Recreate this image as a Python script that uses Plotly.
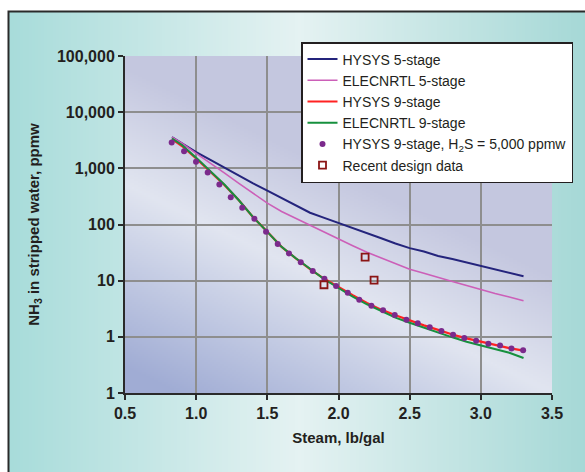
import zlib, struct, base64
import plotly.graph_objects as go

# ---------------- data ----------------
steam_5 = [0.83, 0.9, 1.0, 1.1, 1.2, 1.3, 1.4, 1.5, 1.6, 1.7, 1.8, 1.9, 2.0, 2.1, 2.2, 2.3, 2.4, 2.5, 2.6, 2.7, 2.8, 2.9, 3.0, 3.1, 3.2, 3.3]
hysys_5 = [3590, 2790, 1950, 1410, 1020, 740, 540, 400, 295, 220, 162, 131, 107, 87, 70, 57, 46, 38, 33, 27.5, 24.3, 21, 18.2, 15.8, 13.8, 12.0]
elec_5 = [3600, 2800, 1850, 1250, 820, 540, 360, 240, 170, 128, 97, 72, 55, 42, 32, 25.5, 20, 16, 13.5, 11.3, 9.7, 8.2, 6.9, 5.9, 5.1, 4.4]

steam_9 = [0.83, 0.9, 1.0, 1.1, 1.2, 1.3, 1.4, 1.5, 1.6, 1.7, 1.8, 1.9, 2.0, 2.1, 2.2, 2.3, 2.4, 2.5, 2.6, 2.7, 2.8, 2.9, 3.0, 3.1, 3.2, 3.3]
hysys_9 = [3300, 2500, 1500, 880, 500, 270, 135, 74, 40, 25, 16, 10.8, 7.6, 5.5, 4.0, 3.05, 2.42, 1.95, 1.6, 1.33, 1.1, 0.94, 0.82, 0.72, 0.63, 0.57]
elec_9 = [3400, 2600, 1550, 900, 510, 270, 135, 74, 40, 25, 16, 10.6, 7.4, 5.2, 3.8, 2.85, 2.2, 1.78, 1.45, 1.18, 0.98, 0.82, 0.70, 0.60, 0.52, 0.42]

steam_h2s = [0.828, 0.915, 0.999, 1.081, 1.163, 1.243, 1.324, 1.409, 1.491, 1.573, 1.652, 1.735, 1.819, 1.901, 1.983,
             2.065, 2.146, 2.231, 2.313, 2.395, 2.477, 2.557, 2.641, 2.723, 2.805, 2.884, 2.967, 3.053, 3.135, 3.215, 3.297]
hysys_9_h2s = [2890, 2020, 1306, 845, 516, 307, 198, 126, 74, 45, 30.6, 21.2, 14.8, 10.8, 8.0,
               6.1, 4.57, 3.57, 2.96, 2.44, 2.01, 1.74, 1.48, 1.27, 1.09, 0.95, 0.85, 0.75, 0.70, 0.62, 0.575]

steam_design = [1.898, 2.187, 2.25]
design_data = [8.45, 26.3, 10.2]

y_tickvals = [0.1, 1, 10, 100, 1000, 10000, 100000]
y_ticktext = ["1", "1", "10", "100", "1,000", "10,000", "100,000"]
x_tickvals = [0.5, 1.0, 1.5, 2.0, 2.5, 3.0, 3.5]

# ---------------- gradient images ----------------
def png_uri(w, h, fn):
    rows = []
    for j in range(h):
        v = j / (h - 1)
        row = bytearray(b"\x00")
        for i in range(w):
            row.extend(fn(i / (w - 1), v))
        rows.append(bytes(row))
    raw = b"".join(rows)

    def chunk(tag, data):
        c = struct.pack(">I", len(data)) + tag + data
        return c + struct.pack(">I", zlib.crc32(tag + data) & 0xFFFFFFFF)

    png = b"\x89PNG\r\n\x1a\n" + chunk(b"IHDR", struct.pack(">IIBBBBB", w, h, 8, 2, 0, 0, 0))
    png += chunk(b"IDAT", zlib.compress(raw, 9)) + chunk(b"IEND", b"")
    return "data:image/png;base64," + base64.b64encode(png).decode()


def lerp(a, b, t):
    t = max(0.0, min(1.0, t))
    return [int(round(a[k] + (b[k] - a[k]) * t)) for k in range(3)]


def outer_fn(u, v):
    left, mid, right = (168, 220, 218), (229, 242, 242), (165, 216, 214)
    m = 0.5
    if u < m:
        return lerp(left, mid, u / m)
    return lerp(mid, right, (u - m) / (1 - m))


def inner_fn(u, v):
    bright = (225, 229, 240)
    dark = (160, 172, 212)
    upper = (196, 199, 223)
    d = v - (0.38 + 0.62 * u)
    if d >= 0:
        return lerp(bright, dark, d / 0.55)
    return lerp(bright, upper, -d / 0.35)


W, H = 585, 472
L, R, T, B = 125, 552, 56, 393
pw, ph = R - L, B - T


def px_x(p):
    return (p - L) / pw


def px_y(p):
    return (B - p) / ph


outer_src = png_uri(192, 16, outer_fn)
inner_src = png_uri(214, 169, inner_fn)

font_family = "Liberation Sans, Arial, sans-serif"
txt = "#231f20"

fig = go.Figure()
fig.add_trace(go.Scatter(x=steam_5, y=hysys_5, mode="lines", name="HYSYS 5-stage",
                         line=dict(color="#24247c", width=2)))
fig.add_trace(go.Scatter(x=steam_5, y=elec_5, mode="lines", name="ELECNRTL 5-stage",
                         line=dict(color="#cc5fb8", width=1.6)))
fig.add_trace(go.Scatter(x=steam_9, y=hysys_9, mode="lines", name="HYSYS 9-stage",
                         line=dict(color="#ff2222", width=2.2)))
fig.add_trace(go.Scatter(x=steam_9, y=elec_9, mode="lines", name="ELECNRTL 9-stage",
                         line=dict(color="#16903e", width=2)))
fig.add_trace(go.Scatter(x=steam_h2s, y=hysys_9_h2s, mode="markers",
                         name="HYSYS 9-stage, H<sub>2</sub>S = 5,000 ppmw",
                         marker=dict(color="#7b2a8c", size=6, symbol="circle")))
fig.add_trace(go.Scatter(x=steam_design, y=design_data, mode="markers", name="Recent design data",
                         marker=dict(color="#8b1515", size=7, symbol="square-open", line=dict(width=1.8))))

fig.update_layout(
    width=W, height=H,
    margin=dict(l=L, r=W - R, t=T, b=H - B, pad=0),
    paper_bgcolor="white",
    plot_bgcolor="rgba(0,0,0,0)",
    font=dict(family=font_family, color=txt, size=14),
    showlegend=True,
    legend=dict(x=px_x(301), y=px_y(42), xanchor="left", yanchor="top",
                bgcolor="white", bordercolor=txt, borderwidth=1.5,
                font=dict(size=14, family=font_family, color=txt),
                itemwidth=30, tracegroupgap=0),
    images=[
        dict(source=outer_src, xref="paper", yref="paper",
             x=px_x(9), y=px_y(12), sizex=(W + 5 - 9) / pw, sizey=(H + 5 - 12) / ph,
             sizing="stretch", layer="below", xanchor="left", yanchor="top"),
        dict(source=inner_src, xref="paper", yref="paper",
             x=0, y=1, sizex=1, sizey=1,
             sizing="stretch", layer="below", xanchor="left", yanchor="top"),
    ],
    shapes=[
        dict(type="rect", xref="paper", yref="paper",
             x0=px_x(8.5), x1=px_x(W + 10), y0=px_y(H + 10), y1=px_y(11.5),
             line=dict(color="#2a2a2a", width=2), fillcolor="rgba(0,0,0,0)", layer="below"),
    ],
)

fig.update_xaxes(range=[0.5, 3.5], tickvals=x_tickvals, tickformat=".1f",
                 showgrid=True, gridcolor="#8e8e8e", gridwidth=2,
                 showline=True, linecolor="#2a2a2a", linewidth=2,
                 ticks="outside", ticklen=5, tickwidth=1.5, tickcolor="#2a2a2a",
                 tickfont=dict(size=16, family=font_family, color=txt, weight="bold"),
                 title=dict(text="Steam, lb/gal", standoff=11,
                            font=dict(size=15, family=font_family, color=txt, weight="bold")),
                 zeroline=False)
fig.update_yaxes(type="log", range=[-1, 5], tickvals=y_tickvals, ticktext=y_ticktext,
                 showgrid=True, gridcolor="#8e8e8e", gridwidth=2,
                 showline=True, linecolor="#2a2a2a", linewidth=2,
                 ticks="outside", ticklen=5, tickwidth=1.5, tickcolor="#2a2a2a",
                 tickfont=dict(size=16, family=font_family, color=txt, weight="bold"),
                 title=dict(text="NH<sub>3</sub> in stripped water, ppmw", standoff=14,
                            font=dict(size=15, family=font_family, color=txt, weight="bold")),
                 zeroline=False)

fig.write_html("out.html")
